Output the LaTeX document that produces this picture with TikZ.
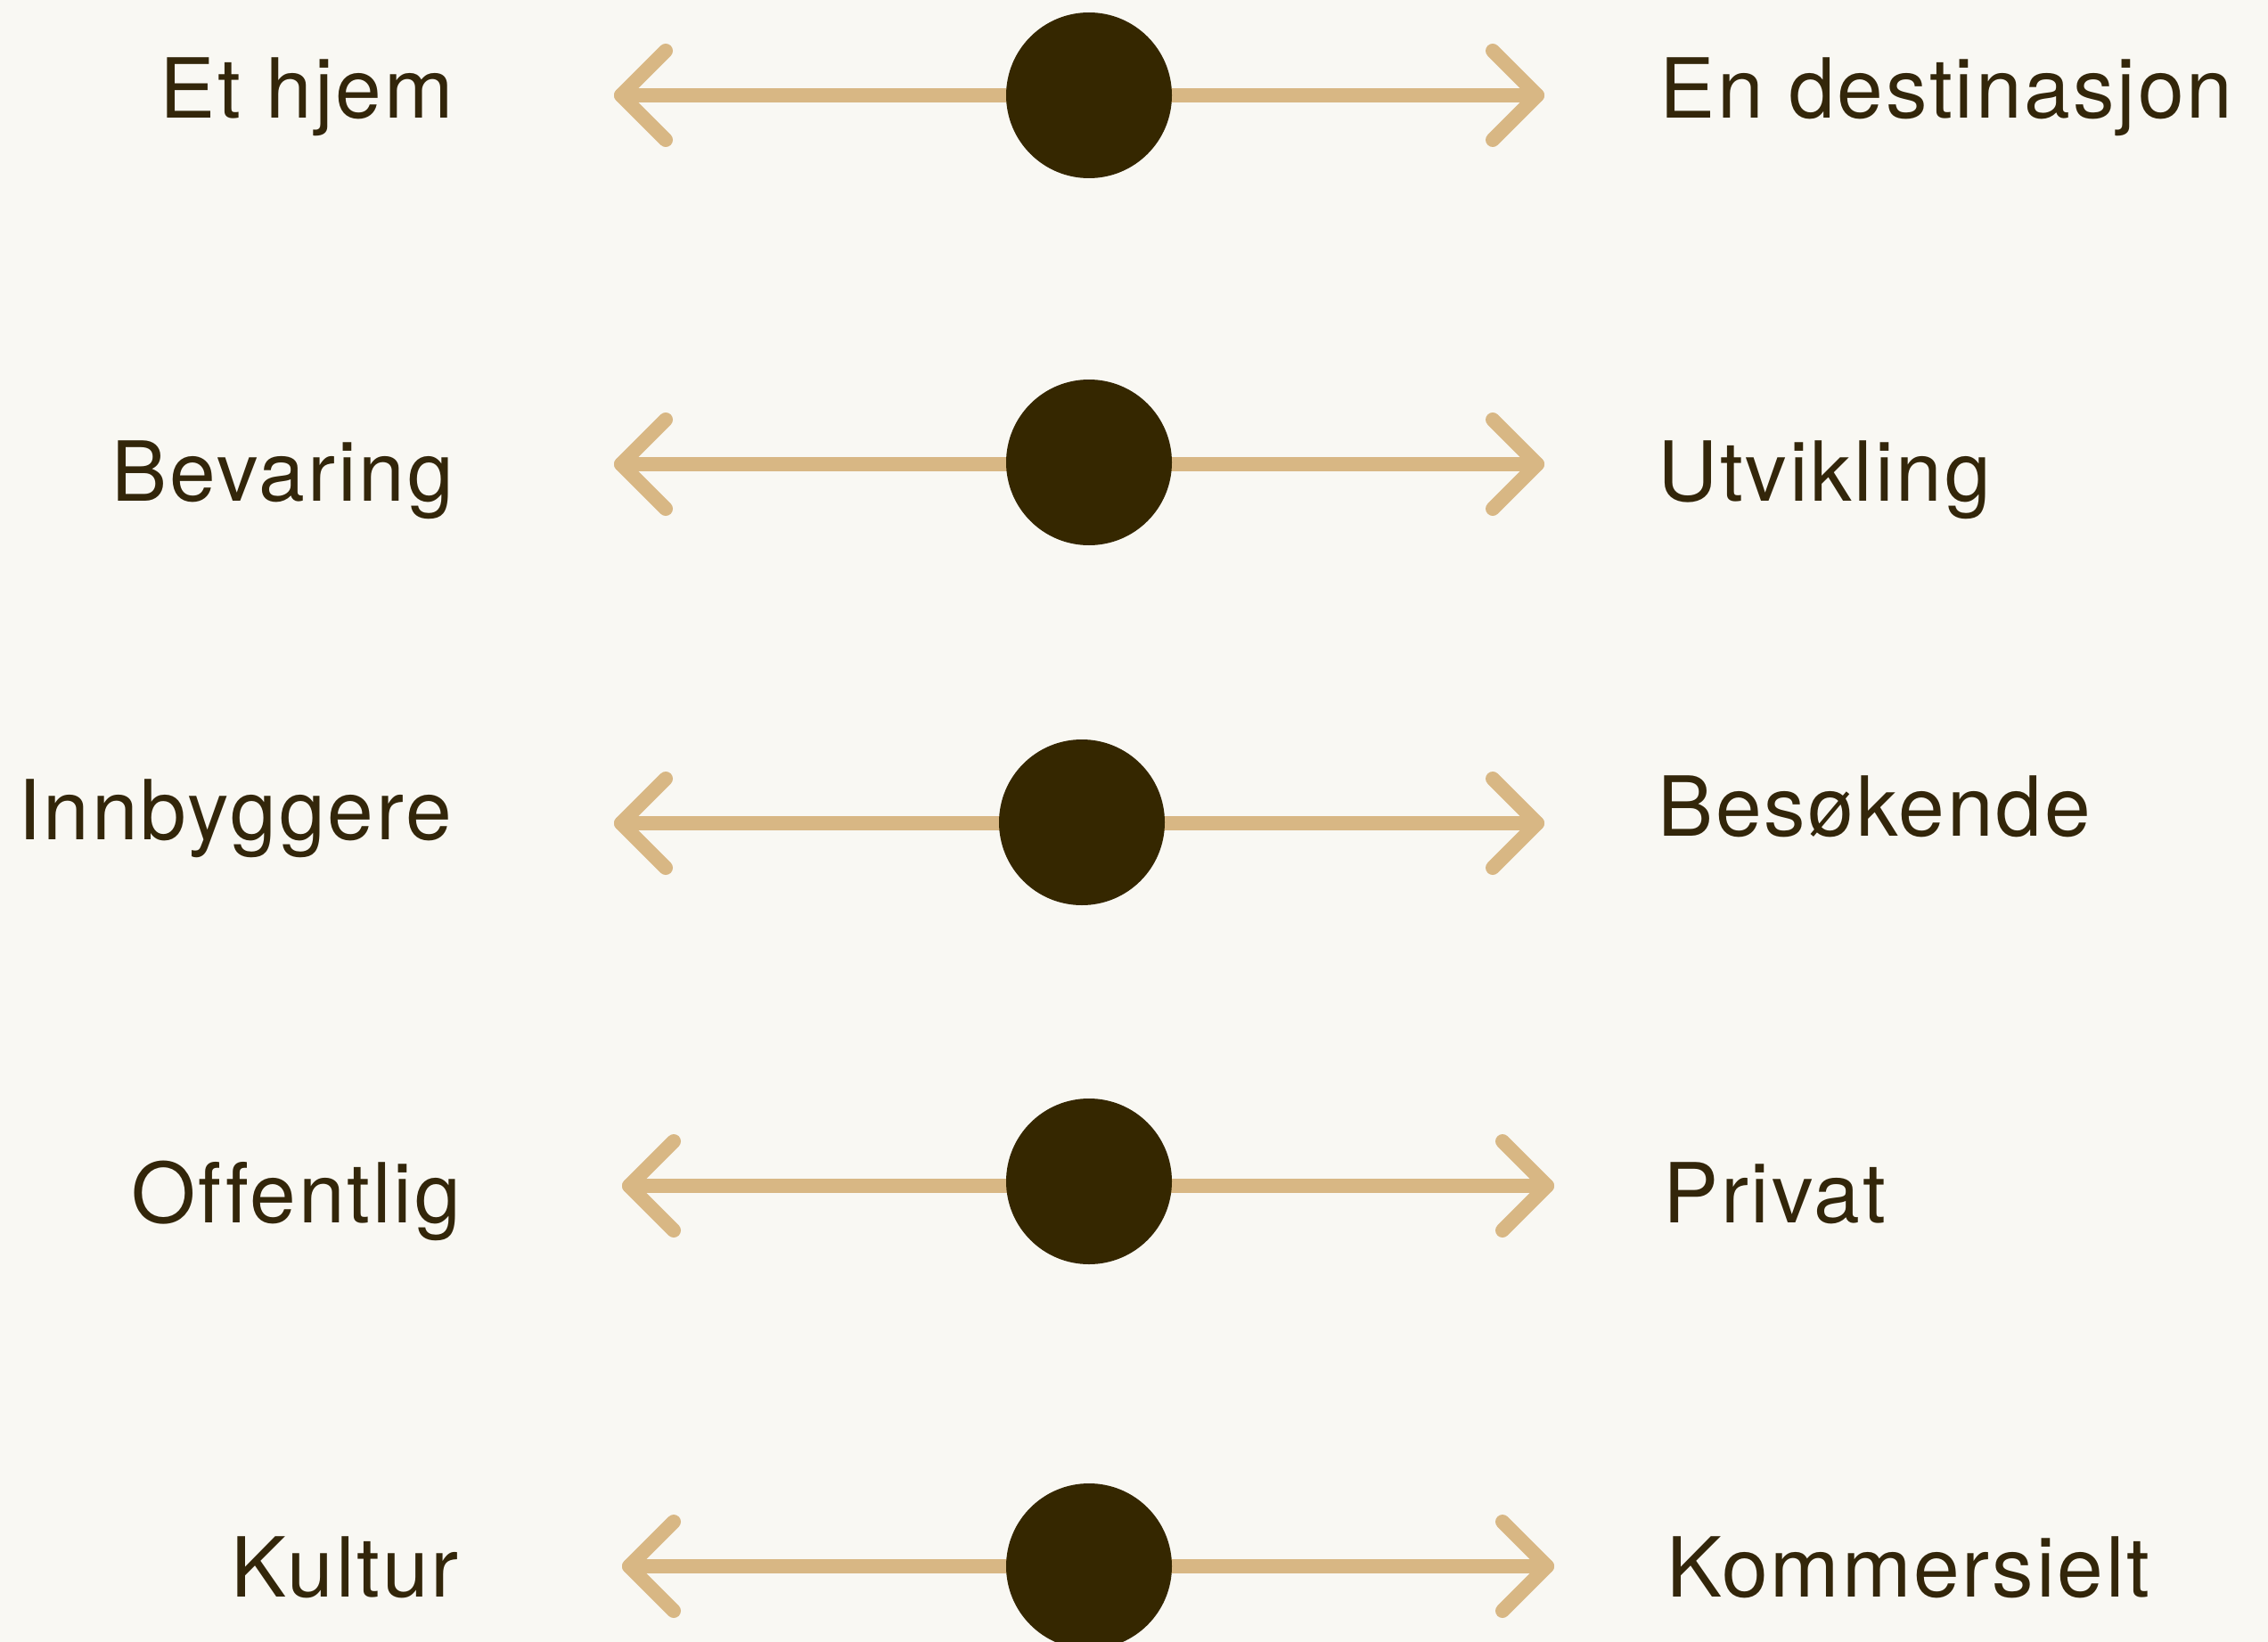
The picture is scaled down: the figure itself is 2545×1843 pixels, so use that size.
\documentclass[tikz,border=0pt]{standalone}
\usepackage{fontspec}
\setmainfont{TeX Gyre Heros}[LetterSpace=3.0,Ligatures=NoCommon]
\usetikzlibrary{calc}
\definecolor{bgcol}{HTML}{F9F8F3}
\definecolor{linecol}{HTML}{D8B784}
\definecolor{dotcol}{HTML}{352700}
\definecolor{txtcol}{HTML}{33260A}
\tikzset{
  axisline/.style={draw=linecol, line width=16pt, line cap=round, line join=round},
  dotnode/.style={circle, fill=dotcol, minimum size=186pt, inner sep=0pt},
  lefttext/.style={anchor=base east, inner sep=0pt, text=txtcol, font=\fontsize{93}{100}\selectfont},
  righttext/.style={anchor=base west, inner sep=0pt, text=txtcol, font=\fontsize{93}{100}\selectfont}
}
\begin{document}
\begin{tikzpicture}[x=1pt,y=-1pt]
\fill[bgcol] (0,0) rectangle (2545,1843);
\useasboundingbox (0,0) rectangle (2545,1843);
% row coordinates
\coordinate (l1) at (697,107);  \coordinate (r1) at (1725,107);
\coordinate (l2) at (697,521);  \coordinate (r2) at (1725,521);
\coordinate (l3) at (697,924);  \coordinate (r3) at (1725,924);
\coordinate (l4) at (706,1331); \coordinate (r4) at (1736,1331);
\coordinate (l5) at (706,1758); \coordinate (r5) at (1736,1758);
\foreach \i in {1,...,5}{
  \draw[axisline] (l\i) -- (r\i);
  \draw[axisline] ($(l\i)+(50,-50)$) -- (l\i) -- ($(l\i)+(50,50)$);
  \draw[axisline] ($(r\i)+(-50,-50)$) -- (r\i) -- ($(r\i)+(-50,50)$);
}
\node[dotnode] (d1) at (1222,107) {};
\node[dotnode] (d2) at (1222,519) {};
\node[dotnode] (d3) at (1214,923) {};
\node[dotnode] (d4) at (1222,1326) {};
\node[dotnode] (d5) at (1222,1758) {};
% texts
\node[lefttext] (a1) at (509,133) {Et hjem};
\node[righttext] (b1) at (1862,133) {En destinasjon};
\node[lefttext] (a2) at (509,562) {Bevaring};
\node[righttext] (b2) at (1860,562) {Utvikling};
\node[lefttext] (a3) at (507,942) {Innbyggere};
\node[righttext] (b3) at (1860,938) {Besøkende};
\node[lefttext] (a4) at (517,1372) {Offentlig};
\node[righttext] (b4) at (1866,1372) {Privat};
\node[lefttext] (a5) at (515,1792) {Kultur};
\node[righttext] (b5) at (1870,1792) {Kommersielt};
\end{tikzpicture}
\end{document}
